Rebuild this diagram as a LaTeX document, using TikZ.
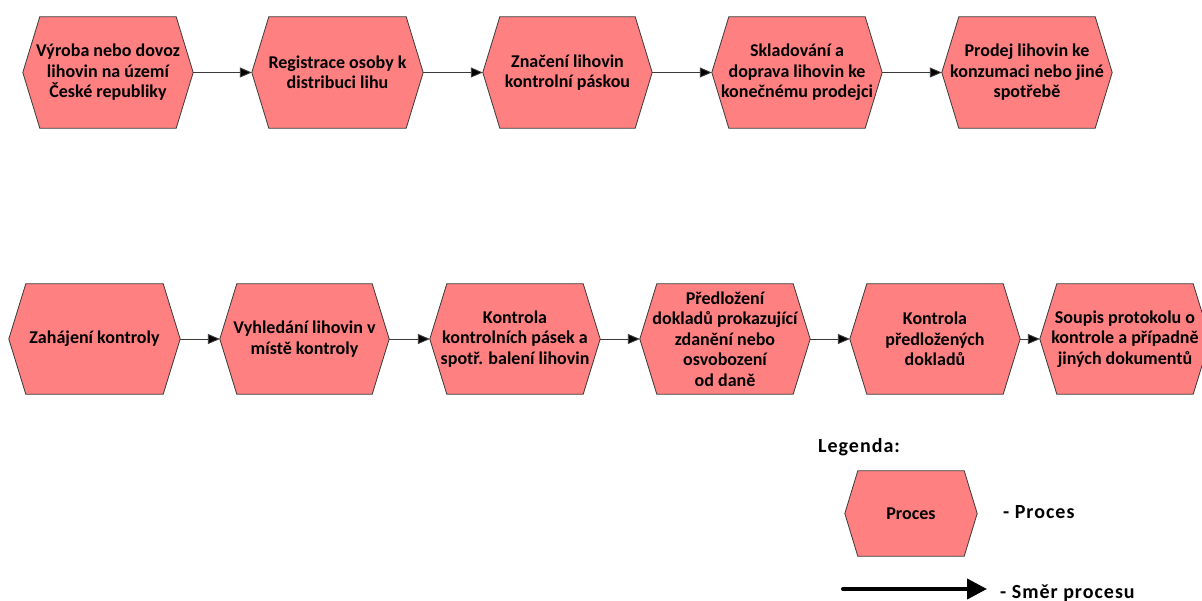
\documentclass[tikz,border=0pt]{standalone}
\usepackage{fontspec}
\setmainfont{Carlito}
\usetikzlibrary{arrows.meta,backgrounds}

\definecolor{procfill}{HTML}{FF8080}
\definecolor{procline}{HTML}{3A3A3A}

\tikzset{
  proc/.style={shape=rectangle, inner sep=0pt, align=center,
    font=\bfseries\fontsize{18}{20.5}\selectfont},
  hexfill/.style={fill=procfill, draw=procline, line width=0.8pt, line join=miter},
  flow/.style={draw=procline, line width=0.9pt,
    -{Triangle[length=12pt,width=10pt,fill=black]}},
  legflow/.style={draw=black, line width=4pt, line cap=round,
    -{Triangle[length=20pt,width=20pt,fill=black]}},
  legtext/.style={anchor=base west, inner sep=0pt,
    font=\bfseries\fontsize{20}{22}\selectfont\addfontfeatures{LetterSpace=5}},
}

% hexagon outline behind a node, with corner indent #2
\newcommand{\hexback}[2]{%
  \path[hexfill] (#1.west) -- ([xshift=#2]#1.north west) -- ([xshift=-#2]#1.north east)
    -- (#1.east) -- ([xshift=-#2]#1.south east) -- ([xshift=#2]#1.south west) -- cycle;}

\begin{document}
\begin{tikzpicture}[x=1pt,y=-1pt]
\useasboundingbox (0,0) rectangle (1202,601);

% upper chain: distribution of spirits
\node[proc, minimum width=170, minimum height=111] (a1) at (108,72.5)
  {Výroba nebo dovoz\\lihovin na území\\České republiky};
\node[proc, minimum width=171, minimum height=111] (a2) at (337.5,72.5)
  {Registrace osoby k\\distribuci lihu};
\node[proc, minimum width=169, minimum height=111] (a3) at (567.5,72.5)
  {Značení lihovin\\kontrolní páskou};
\node[proc, minimum width=170, minimum height=111] (a4) at (797,72.5)
  {Skladování a\\doprava lihovin ke\\konečnému prodejci};
\node[proc, minimum width=170, minimum height=111] (a5) at (1027,72.5)
  {Prodej lihovin ke\\konzumaci nebo jiné\\spotřebě};

% lower chain: course of the inspection
\node[proc, minimum width=171, minimum height=110] (b1) at (94.5,339)
  {Zahájení kontroly};
\node[proc, minimum width=169, minimum height=110] (b2) at (304.5,339)
  {Vyhledání lihovin v\\místě kontroly};
\node[proc, minimum width=170, minimum height=110] (b3) at (515,339)
  {Kontrola\\kontrolních pásek a\\spotř. balení lihovin};
\node[proc, minimum width=170, minimum height=110] (b4) at (725,339)
  {Předložení\\dokladů prokazující\\zdanění nebo\\osvobození\\od daně};
\node[proc, minimum width=170, minimum height=110] (b5) at (935,339)
  {Kontrola\\předložených\\dokladů};
\node[proc, minimum width=170, minimum height=110] (b6) at (1125,339)
  {Soupis protokolu o\\kontrole a případně\\jiných dokumentů};

% legend
\node[legtext] (lt) at (818,452) {Legenda:};
\node[proc, minimum width=132, minimum height=85]
  (lp) at (911,513.5) {Proces};
\node[legtext] (lpt) at (1003,518) {- Proces};
\coordinate (ls) at (843,589);
\coordinate (le) at (987,589);
\node[legtext] (lat) at (1000,598) {- Směr procesu};

\begin{scope}[on background layer]
  \foreach \n in {a1,a2,a3,a4,a5,b1,b2,b3,b4,b5,b6} {\hexback{\n}{17}}
  \hexback{lp}{13}
\end{scope}

% connectors
\foreach \s/\t in {a1/a2,a2/a3,a3/a4,a4/a5,b1/b2,b2/b3,b3/b4,b4/b5,b5/b6}
  \draw[flow] (\s.east) -- (\t.west);
\draw[legflow] (ls) -- (le);
\end{tikzpicture}
\end{document}
